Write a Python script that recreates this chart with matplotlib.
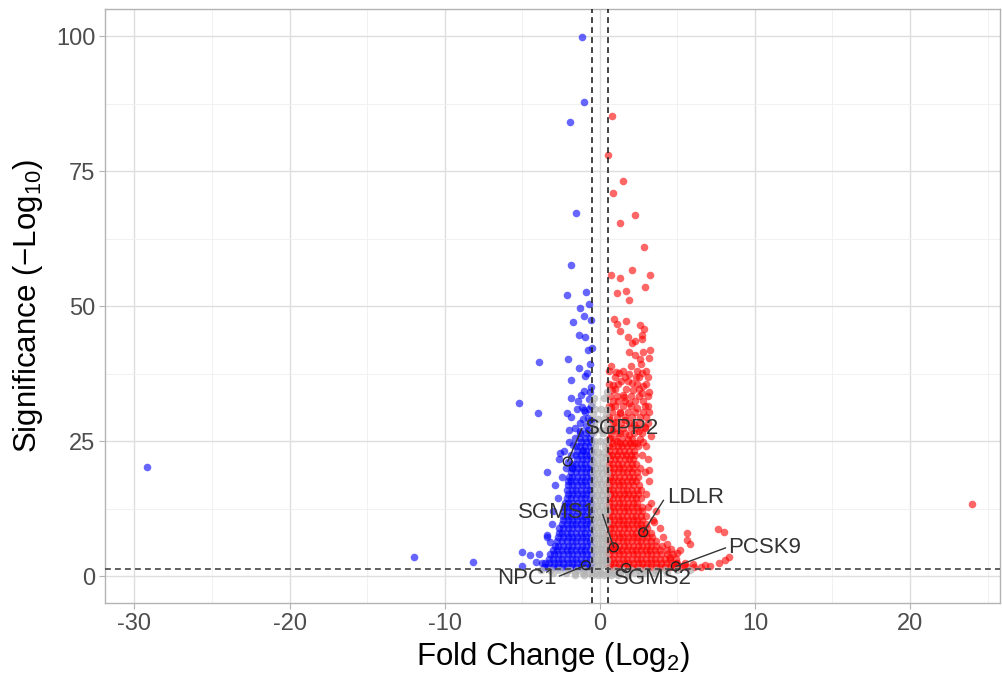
import matplotlib
matplotlib.use("Agg")
import matplotlib.pyplot as plt
from matplotlib.ticker import MultipleLocator

plt.rcParams["font.family"] = ["Liberation Sans", "DejaVu Sans"]
plt.rcParams["mathtext.fontset"] = "custom"
plt.rcParams["mathtext.rm"] = "Liberation Sans"
plt.rcParams["mathtext.it"] = "Liberation Sans:italic"
plt.rcParams["axes.unicode_minus"] = False

# ---------------- data (log2 FC, -log10 p) ----------------
# scattered significant down-regulated genes
blue_pts = [(-1.17, 99.8), (-1.04, 87.8), (-1.94, 84.0), (-1.55, 67.3), (-1.88, 57.6),
            (-0.9, 52.6), (-2.1, 52.0), (-0.7, 50.4), (-1.3, 49.6), (-1.04, 48.2),
            (-1.75, 47.0), (-0.58, 47.4), (-1.36, 44.6), (-0.97, 44.3), (-0.78, 41.9),
            (-0.52, 42.3), (-3.9, 39.7), (-2.07, 40.2), (-1.36, 38.6), (-0.65, 39.3),
            (-0.84, 37.6), (-0.97, 37.0), (-1.88, 36.3), (-1.87, 33.0), (-1.16, 31.3),
            (-4.0, 30.1), (-2.1, 30.1), (-1.87, 29.4), (-0.97, 30.4), (-0.77, 29.2),
            (-1.29, 28.3), (-5.2, 32.0), (-2.58, 22.8), (-3.4, 19.2), (-2.45, 18.3),
            (-1.8, 20.0), (-1.74, 24.3), (-1.1, 23.3), (-5.0, 4.4), (-4.5, 3.8),
            (-3.7, 2.4), (-5.0, 1.9), (-3.4, 7.6), (-3.2, 6.3), (-4.1, 2.6),
            (-12.0, 3.5), (-8.2, 2.6), (-29.2, 20.1), (-0.6, 35.0), (-1.0, 34.2),
            (-0.7, 32.8), (-1.4, 32.5), (-0.55, 31.5), (-1.0, 30.8), (-0.6, 28.5),
            (-1.6, 27.5), (-0.9, 27.8), (-2.07, 21.2), (-0.65, 34.0), (-1.2, 33.6),
            (-0.7, 31.0), (-1.5, 30.9), (-1.1, 29.0), (-0.6, 28.9), (-0.75, 27.0),
            (-1.3, 26.9), (-2.0, 27.1)]

# dense down-regulated cloud, one row per significance level
blue_rows = [
    (26.5, [-0.6, -0.9, -1.25]),
    (25.6, [-0.62, -0.95, -1.3, -1.6]),
    (24.8, [-0.58, -0.88, -1.2, -2.0]),
    (24.0, [-0.63, -0.93, -1.25, -1.55]),
    (23.2, [-0.58, -0.88, -1.18, -1.5, -2.3]),
    (22.4, [-0.62, -0.92, -1.22, -1.55, -1.85]),
    (21.6, [-0.58, -0.88, -1.18, -1.48, -2.6]),
    (20.8, [-0.63, -0.93, -1.23, -1.53, -1.8]),
    (20.0, [-0.58, -0.88, -1.18, -1.48, -1.78, -2.2]),
    (19.2, [-0.62, -0.92, -1.22, -1.52, -1.85]),
    (18.4, [-0.58, -0.88, -1.18, -1.48, -1.78, -2.0]),
    (17.6, [-0.63, -0.93, -1.23, -1.53, -1.83, -2.05]),
    (16.8, [-0.58, -0.88, -1.18, -1.48, -1.78, -2.05, -2.9]),
    (16.0, [-0.62, -0.92, -1.22, -1.52, -1.82, -2.1]),
    (15.2, [-0.58, -0.88, -1.18, -1.48, -1.78, -2.08]),
    (14.4, [-0.63, -0.93, -1.23, -1.53, -1.83, -2.13, -2.7]),
    (13.6, [-0.58, -0.88, -1.18, -1.48, -1.78, -2.08, -2.25]),
    (12.8, [-0.62, -0.92, -1.22, -1.52, -1.82, -2.12, -2.3]),
    (12.0, [-0.58, -0.88, -1.18, -1.48, -1.78, -2.08, -2.35, -3.0]),
    (11.2, [-0.63, -0.93, -1.23, -1.53, -1.83, -2.13, -2.4]),
    (10.4, [-0.58, -0.88, -1.18, -1.48, -1.78, -2.08, -2.38]),
    (9.6, [-0.62, -0.92, -1.22, -1.52, -1.82, -2.12, -2.42, -3.1]),
    (8.8, [-0.58, -0.88, -1.18, -1.48, -1.78, -2.08, -2.38, -2.6]),
    (8.0, [-0.63, -0.93, -1.23, -1.53, -1.83, -2.13, -2.43, -2.65]),
    (7.2, [-0.58, -0.88, -1.18, -1.48, -1.78, -2.08, -2.38, -2.68, -3.4]),
    (6.4, [-0.62, -0.92, -1.22, -1.52, -1.82, -2.12, -2.42, -2.75]),
    (5.6, [-0.58, -0.88, -1.18, -1.48, -1.78, -2.08, -2.38, -2.68, -2.9]),
    (4.8, [-0.63, -0.93, -1.23, -1.53, -1.83, -2.13, -2.43, -2.73, -3.0]),
    (4.0, [-0.58, -0.88, -1.18, -1.48, -1.78, -2.08, -2.38, -2.68, -2.98, -3.2, -3.9]),
    (3.2, [-0.62, -0.92, -1.22, -1.52, -1.82, -2.12, -2.42, -2.72, -3.02, -3.3]),
    (2.4, [-0.58, -0.88, -1.18, -1.48, -1.78, -2.08, -2.38, -2.68, -2.98, -3.28, -3.55]),
    (1.7, [-0.62, -0.92, -1.22, -1.52, -1.82, -2.12, -2.42, -2.72, -3.02, -3.32, -3.6]),
]

# scattered significant up-regulated genes
red_pts = [(0.77, 85.1), (0.55, 77.9), (1.5, 73.1), (0.84, 71.0), (2.27, 66.8),
           (1.3, 65.3), (2.85, 61.0), (2.07, 56.6), (3.24, 55.7), (0.71, 55.7),
           (1.3, 55.2), (2.9, 53.5), (1.1, 52.4), (1.68, 52.8), (1.87, 51.1),
           (0.9, 47.6), (1.1, 46.7), (1.7, 47.2), (1.3, 45.4), (2.6, 46.5),
           (2.85, 45.8), (1.8, 44.3), (2.7, 44.6), (2.07, 43.2), (2.3, 43.5),
           (2.7, 43.9), (1.87, 41.5), (2.27, 41.0), (2.8, 41.5), (3.24, 41.9),
           (2.6, 40.2), (2.0, 38.9), (3.2, 40.4), (2.65, 39.3), (0.71, 38.9),
           (1.04, 37.8), (1.23, 37.6), (1.87, 37.5), (2.33, 36.9), (2.7, 37.6),
           (1.8, 36.2), (1.35, 36.2), (2.06, 35.8), (0.84, 35.3), (2.77, 35.1),
           (2.13, 34.4), (3.16, 34.0), (0.77, 34.4), (1.48, 33.5), (2.7, 33.9),
           (0.84, 32.4), (1.55, 33.1), (1.87, 32.0), (3.1, 31.5), (0.71, 31.3),
           (2.39, 31.1), (1.29, 30.2), (2.77, 30.4), (3.0, 29.4), (0.6, 29.0),
           (1.0, 28.5), (1.6, 28.8), (2.2, 28.2), (2.9, 27.6), (0.8, 27.0),
           (1.3, 26.5), (1.9, 26.2), (2.5, 26.8), (3.3, 26.0), (0.65, 25.5),
           (1.1, 25.0), (2.2, 24.6), (2.8, 24.9), (3.2, 19.6), (3.1, 12.8),
           (3.5, 10.0), (4.3, 6.0), (4.6, 5.0), (5.0, 4.2), (5.2, 4.8),
           (5.6, 7.9), (5.65, 6.6), (5.8, 5.9), (4.5, 3.5), (7.6, 8.7),
           (8.0, 8.1), (8.3, 3.5), (8.1, 3.0), (7.7, 2.4), (7.1, 1.9),
           (6.5, 1.7), (6.1, 1.7), (5.4, 2.0), (4.9, 2.4), (6.0, 2.3),
           (6.8, 2.0), (24.0, 13.3), (0.9, 5.3), (2.8, 8.1), (4.9, 1.8)]

# dense up-regulated cloud, one row per significance level
red_rows = [
    (38.0, [0.6, 1.5, 2.4, 3.0]),
    (36.8, [0.95, 1.6, 2.5, 3.1]),
    (35.6, [0.62, 1.2, 2.4, 3.0]),
    (34.6, [1.0, 1.7, 2.5]),
    (33.4, [0.65, 1.1, 2.0, 2.5, 3.1]),
    (32.4, [1.2, 1.6, 2.3, 2.8]),
    (31.4, [0.6, 1.0, 1.5, 2.0, 2.9]),
    (30.4, [0.8, 1.3, 1.8, 2.3, 3.2]),
    (29.4, [0.6, 1.1, 1.6, 2.1, 2.6]),
    (28.4, [0.85, 1.35, 1.85, 2.5, 3.1]),
    (27.4, [0.6, 1.0, 1.5, 2.0, 2.4, 2.9]),
    (26.4, [0.75, 1.2, 1.6, 2.2, 2.7]),
    (25.4, [0.6, 0.95, 1.4, 1.8, 2.1, 2.6]),
    (24.6, [0.8, 1.3, 1.6, 1.95, 2.4]),
    (24.0, [0.58, 0.85, 1.15, 1.45, 1.75, 2.05, 2.45, 3.0]),
    (23.2, [0.62, 0.95, 1.25, 1.55, 1.9, 2.2]),
    (22.4, [0.57, 0.8, 1.1, 1.4, 1.7, 2.0, 2.3, 2.75]),
    (21.6, [0.65, 0.95, 1.25, 1.6, 1.9, 2.15, 3.1]),
    (20.8, [0.58, 0.85, 1.15, 1.45, 1.75, 2.05, 2.35]),
    (20.0, [0.62, 0.92, 1.22, 1.52, 1.85, 2.15, 2.6]),
    (19.2, [0.58, 0.88, 1.18, 1.48, 1.78, 2.08, 2.4, 2.9]),
    (18.4, [0.63, 0.93, 1.23, 1.55, 1.85, 2.15, 2.45]),
    (17.6, [0.58, 0.86, 1.16, 1.46, 1.76, 2.06, 2.36, 3.2]),
    (16.8, [0.62, 0.92, 1.22, 1.52, 1.82, 2.12, 2.5]),
    (16.0, [0.58, 0.88, 1.18, 1.48, 1.78, 2.08, 2.38, 2.65]),
    (15.2, [0.63, 0.93, 1.23, 1.53, 1.83, 2.13, 2.43, 3.0]),
    (14.4, [0.58, 0.86, 1.16, 1.46, 1.76, 2.06, 2.36, 2.66]),
    (13.6, [0.62, 0.92, 1.22, 1.52, 1.82, 2.12, 2.42, 3.3]),
    (12.8, [0.58, 0.88, 1.18, 1.48, 1.78, 2.08, 2.38, 2.7]),
    (12.0, [0.63, 0.93, 1.23, 1.53, 1.83, 2.13, 2.43, 2.75, 3.6]),
    (11.2, [0.58, 0.86, 1.16, 1.46, 1.76, 2.06, 2.36, 2.66, 2.95]),
    (10.4, [0.62, 0.92, 1.22, 1.52, 1.82, 2.12, 2.42, 2.72, 3.4]),
    (9.6, [0.58, 0.88, 1.18, 1.48, 1.78, 2.08, 2.38, 2.68, 3.0]),
    (8.8, [0.63, 0.93, 1.23, 1.53, 1.83, 2.13, 2.43, 2.73, 3.05, 3.9]),
    (8.0, [0.58, 0.86, 1.16, 1.46, 1.76, 2.06, 2.36, 2.66, 2.96, 3.3]),
    (7.2, [0.62, 0.92, 1.22, 1.52, 1.82, 2.12, 2.42, 2.72, 3.02, 3.35, 4.1]),
    (6.4, [0.58, 0.88, 1.18, 1.48, 1.78, 2.08, 2.38, 2.68, 2.98, 3.28, 3.6]),
    (5.6, [0.63, 0.93, 1.23, 1.53, 1.83, 2.13, 2.43, 2.73, 3.03, 3.33, 3.65, 4.0]),
    (4.8, [0.58, 0.86, 1.16, 1.46, 1.76, 2.06, 2.36, 2.66, 2.96, 3.26, 3.56, 3.9, 4.3]),
    (4.0, [0.62, 0.92, 1.22, 1.52, 1.82, 2.12, 2.42, 2.72, 3.02, 3.32, 3.62, 3.95, 4.3, 4.7]),
    (3.2, [0.58, 0.88, 1.18, 1.48, 1.78, 2.08, 2.38, 2.68, 2.98, 3.28, 3.58, 3.9, 4.2, 4.55, 4.9]),
    (2.4, [0.63, 0.93, 1.23, 1.53, 1.83, 2.13, 2.43, 2.73, 3.03, 3.33, 3.63, 3.93, 4.25, 4.6, 5.0, 5.5]),
    (1.7, [0.6, 0.9, 1.2, 1.5, 1.8, 2.1, 2.4, 2.7, 3.0, 3.3, 3.6, 3.9, 4.2, 4.5, 4.85, 5.2, 5.6]),
]

# not significant genes (between the fold-change cut-offs, or below the p cut-off)
grey_rows = [
    (34.0, [0.45]), (33.0, [-0.4, 0.3]), (32.0, [-0.5]), (31.0, [-0.3, 0.1, 0.45]),
    (30.0, [-0.45, 0.4]), (29.0, [-0.1, 0.3]), (28.0, [-0.35, 0.45]), (27.0, [-0.3, 0.1, 0.4]),
    (26.5, [-0.45, 0.2]), (25.0, [-0.4, 0.0, 0.4]), (24.0, [-0.3, 0.35]),
    (23.0, [-0.45, -0.1, 0.3]), (22.0, [-0.35, 0.1, 0.42]), (21.0, [-0.45, -0.15, 0.2]),
    (20.0, [-0.3, 0.05, 0.4]), (19.0, [-0.45, -0.2, 0.15, 0.45]), (18.0, [-0.35, -0.05, 0.3]),
    (17.0, [-0.45, -0.2, 0.1, 0.4]), (16.0, [-0.35, 0.0, 0.3]), (15.0, [-0.45, -0.15, 0.15, 0.45]),
    (14.0, [-0.3, 0.0, 0.3]), (13.0, [-0.45, -0.2, 0.1, 0.4]), (12.0, [-0.35, -0.05, 0.25, 0.45]),
    (11.0, [-0.45, -0.2, 0.1, 0.35]), (10.0, [-0.35, -0.05, 0.2, 0.45]), (9.0, [-0.45, -0.2, 0.05, 0.3]),
    (8.0, [-0.35, -0.1, 0.15, 0.4]), (7.0, [-0.45, -0.2, 0.05, 0.3, 0.45]), (6.0, [-0.35, -0.1, 0.15, 0.4]),
    (5.0, [-0.45, -0.2, 0.05, 0.3]), (4.0, [-0.35, -0.1, 0.15, 0.4]), (3.0, [-0.45, -0.2, 0.05, 0.3, 0.45]),
    (2.0, [-0.35, -0.1, 0.15, 0.4]),
    (1.2, [-3.8, -3.2, -2.6, -2.0, -1.5, -1.0, -0.5, 0.0, 0.5, 1.0, 1.5, 2.0, 2.5, 3.0, 3.6, 4.2, 5.0, 5.8]),
    (0.6, [-3.0, -2.2, -1.6, -1.1, -0.7, -0.3, 0.1, 0.5, 0.9, 1.3, 1.8, 2.3, 2.9, 3.5, 4.3]),
    (0.1, [-1.6, -1.0, -0.5, -0.1, 0.3, 0.7, 1.2, 1.8, 2.6]),
]

# labelled genes: name, point, label position, leader start (None = no leader)
genes      = ["SGPP2", "SGMS1", "NPC1", "SGMS2", "LDLR", "PCSK9"]
gene_pts   = [(-2.07, 21.2), (0.9, 5.3), (-0.9, 2.0), (1.7, 1.5), (2.8, 8.1), (4.9, 1.8)]
label_pos  = [(1.45, 27.3), (-2.75, 11.8), (-4.7, -0.4), (3.4, -0.4), (6.2, 14.6), (10.6, 5.2)]
leader_beg = [(-1.16, 27.3), (0.19, 11.4), (-2.6, 0.0), None, (4.1, 14.0), (8.1, 5.2)]

fc_cut = 0.5
p_cut = 1.3   # -log10(0.05)


def unroll(rows):
    xs, ys = [], []
    for y, row in rows:
        xs += row
        ys += [y] * len(row)
    return xs, ys


gx, gy = unroll(grey_rows)
bx, by = unroll(blue_rows)
bx += [p[0] for p in blue_pts]; by += [p[1] for p in blue_pts]
rx, ry = unroll(red_rows)
rx += [p[0] for p in red_pts]; ry += [p[1] for p in red_pts]

# ---------------- plot ----------------
fig = plt.figure(figsize=(10.02, 6.73), dpi=100)
ax = fig.add_axes([0.1048, 0.104, 0.8932, 0.8826])

ax.set_xlim(-31.9, 25.8)
ax.set_ylim(-5.0, 105.0)
ax.xaxis.set_major_locator(MultipleLocator(10))
ax.xaxis.set_minor_locator(MultipleLocator(5))
ax.yaxis.set_major_locator(MultipleLocator(25))
ax.yaxis.set_minor_locator(MultipleLocator(12.5))
ax.grid(which="major", color="#DEDEDE", lw=1.0, zorder=0)
ax.grid(which="minor", color="#EFEFEF", lw=0.6, zorder=0)
ax.set_axisbelow(True)
for s in ax.spines.values():
    s.set_color("#B3B3B3")
    s.set_linewidth(1.0)
ax.tick_params(which="major", length=4, color="#B3B3B3", labelsize=17, labelcolor="#4D4D4D", pad=3)
ax.tick_params(which="minor", length=0)

ax.scatter(bx, by, s=30, color="#0000FF", alpha=0.6, linewidths=0, zorder=2)
ax.scatter(rx, ry, s=30, color="#FF0000", alpha=0.6, linewidths=0, zorder=2)
ax.scatter(gx, gy, s=30, color="#B3B3B3", alpha=0.7, linewidths=0, zorder=3)

ax.axvline(-fc_cut, color="#222222", lw=1.2, dashes=(3.5, 2.5), zorder=4)
ax.axvline(fc_cut, color="#222222", lw=1.2, dashes=(3.5, 2.5), zorder=4)
ax.axhline(p_cut, color="#444444", lw=1.2, dashes=(3.5, 2.5), zorder=4)

for name, pt, lp, lb in zip(genes, gene_pts, label_pos, leader_beg):
    ax.scatter([pt[0]], [pt[1]], s=40, facecolors="none", edgecolors="#222222", linewidths=1.0, zorder=5)
    if lb is not None:
        ax.plot([lb[0], pt[0]], [lb[1], pt[1]], color="#333333", lw=1.0, zorder=5)
    ax.text(lp[0], lp[1], name, fontsize=16, color="#333333", ha="center", va="center", zorder=6)

ax.set_xlabel("Fold Change (Log$_2$)", fontsize=22.5, labelpad=4)
ax.set_ylabel("Significance (−Log$_{10}$)", fontsize=22.5, labelpad=8)

fig.savefig("out.png", dpi=100)
